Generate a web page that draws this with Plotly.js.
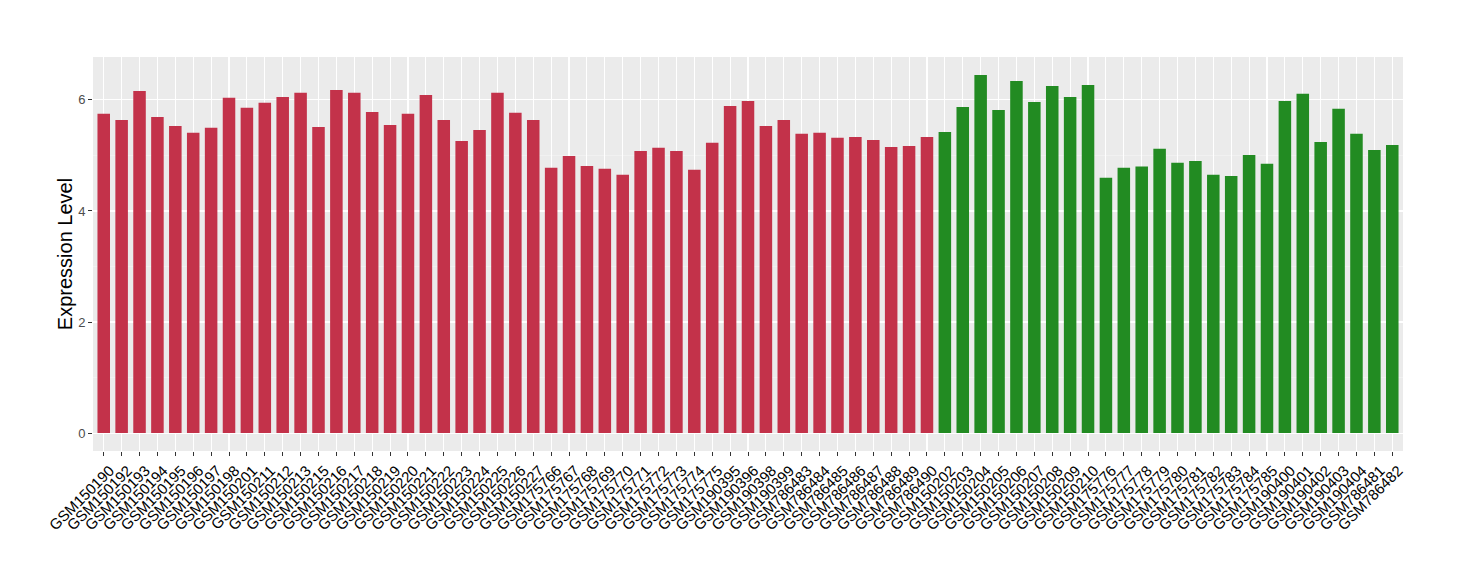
<!DOCTYPE html>
<html>
<head>
<meta charset="utf-8">
<script src="https://cdn.plot.ly/plotly-3.0.1.min.js"></script>
<style>html,body{margin:0;padding:0;background:#fff;}#chart{width:1460px;height:580px;}</style>
</head>
<body>
<div id="chart"></div>
<script>
const samplesRed = ["GSM150190","GSM150192","GSM150193","GSM150194","GSM150195","GSM150196","GSM150197","GSM150198","GSM150201","GSM150211","GSM150212","GSM150213","GSM150215","GSM150216","GSM150217","GSM150218","GSM150219","GSM150220","GSM150221","GSM150222","GSM150223","GSM150224","GSM150225","GSM150226","GSM150227","GSM175766","GSM175767","GSM175768","GSM175769","GSM175770","GSM175771","GSM175772","GSM175773","GSM175774","GSM175775","GSM190395","GSM190396","GSM190398","GSM190399","GSM786483","GSM786484","GSM786485","GSM786486","GSM786487","GSM786488","GSM786489","GSM786490"];
const valuesRed = [5.75,5.64,6.16,5.69,5.53,5.41,5.50,6.04,5.86,5.95,6.05,6.13,5.51,6.18,6.13,5.78,5.55,5.75,6.09,5.64,5.26,5.46,6.13,5.77,5.64,4.78,4.99,4.81,4.76,4.65,5.08,5.14,5.08,4.74,5.23,5.89,5.98,5.53,5.64,5.39,5.41,5.32,5.33,5.28,5.15,5.17,5.33];
const samplesGreen = ["GSM150202","GSM150203","GSM150204","GSM150205","GSM150206","GSM150207","GSM150208","GSM150209","GSM150210","GSM175776","GSM175777","GSM175778","GSM175779","GSM175780","GSM175781","GSM175782","GSM175783","GSM175784","GSM175785","GSM190400","GSM190401","GSM190402","GSM190403","GSM190404","GSM786481","GSM786482"];
const valuesGreen = [5.42,5.87,6.45,5.82,6.34,5.96,6.25,6.05,6.27,4.60,4.78,4.80,5.12,4.87,4.90,4.65,4.63,5.01,4.85,5.98,6.11,5.24,5.84,5.39,5.10,5.19];
const yTicks = [0,2,4,6];

const allSamples = samplesRed.concat(samplesGreen);
const allValues = valuesRed.concat(valuesGreen);
const maxV = Math.max.apply(null, allValues);
const pad = maxV * 0.05;

const traces = [
  {type:'bar', x: samplesRed, y: valuesRed, marker:{color:'#C3324A'}, hoverinfo:'x+y', showlegend:false},
  {type:'bar', x: samplesGreen, y: valuesGreen, marker:{color:'#228B22'}, hoverinfo:'x+y', showlegend:false}
];

const layout = {
  width:1460, height:580,
  margin:{l:93, r:57, t:57, b:129},
  paper_bgcolor:'#ffffff',
  plot_bgcolor:'#EBEBEB',
  bargap:0.3,
  barmode:'overlay',
  font:{family:'Liberation Sans, Arial, sans-serif', color:'#4D4D4D', size:13},
  xaxis:{
    type:'category',
    categoryorder:'array', categoryarray: allSamples,
    tickmode:'array', tickvals: allSamples, ticktext: allSamples,
    range:[-0.6, allSamples.length - 0.4],
    tickangle:-45,
    ticklabelshift:6,
    showgrid:true, gridcolor:'#ffffff', gridwidth:1.1,
    ticks:'outside', ticklen:4, tickcolor:'#333333', tickwidth:1,
    tickfont:{size:15, color:'#000000'},
    zeroline:false, showline:false, automargin:false
  },
  yaxis:{
    range:[-pad, maxV + pad],
    tickvals: yTicks, ticktext: yTicks.map(String),
    showgrid:true, gridcolor:'#ffffff', gridwidth:1.1,
    minor:{tickvals:[1,3,5], showgrid:true, gridcolor:'#F5F5F5', gridwidth:0.6, ticks:''},
    ticks:'outside', ticklen:4, tickcolor:'#333333', tickwidth:1,
    tickfont:{size:13, color:'#4D4D4D'},
    zeroline:false, showline:false, automargin:false,
    title:{text:'Expression Level', font:{size:20, color:'#000000'}, standoff:0}
  }
};

Plotly.newPlot('chart', traces, layout, {displayModeBar:false, staticPlot:true});
</script>
</body>
</html>
